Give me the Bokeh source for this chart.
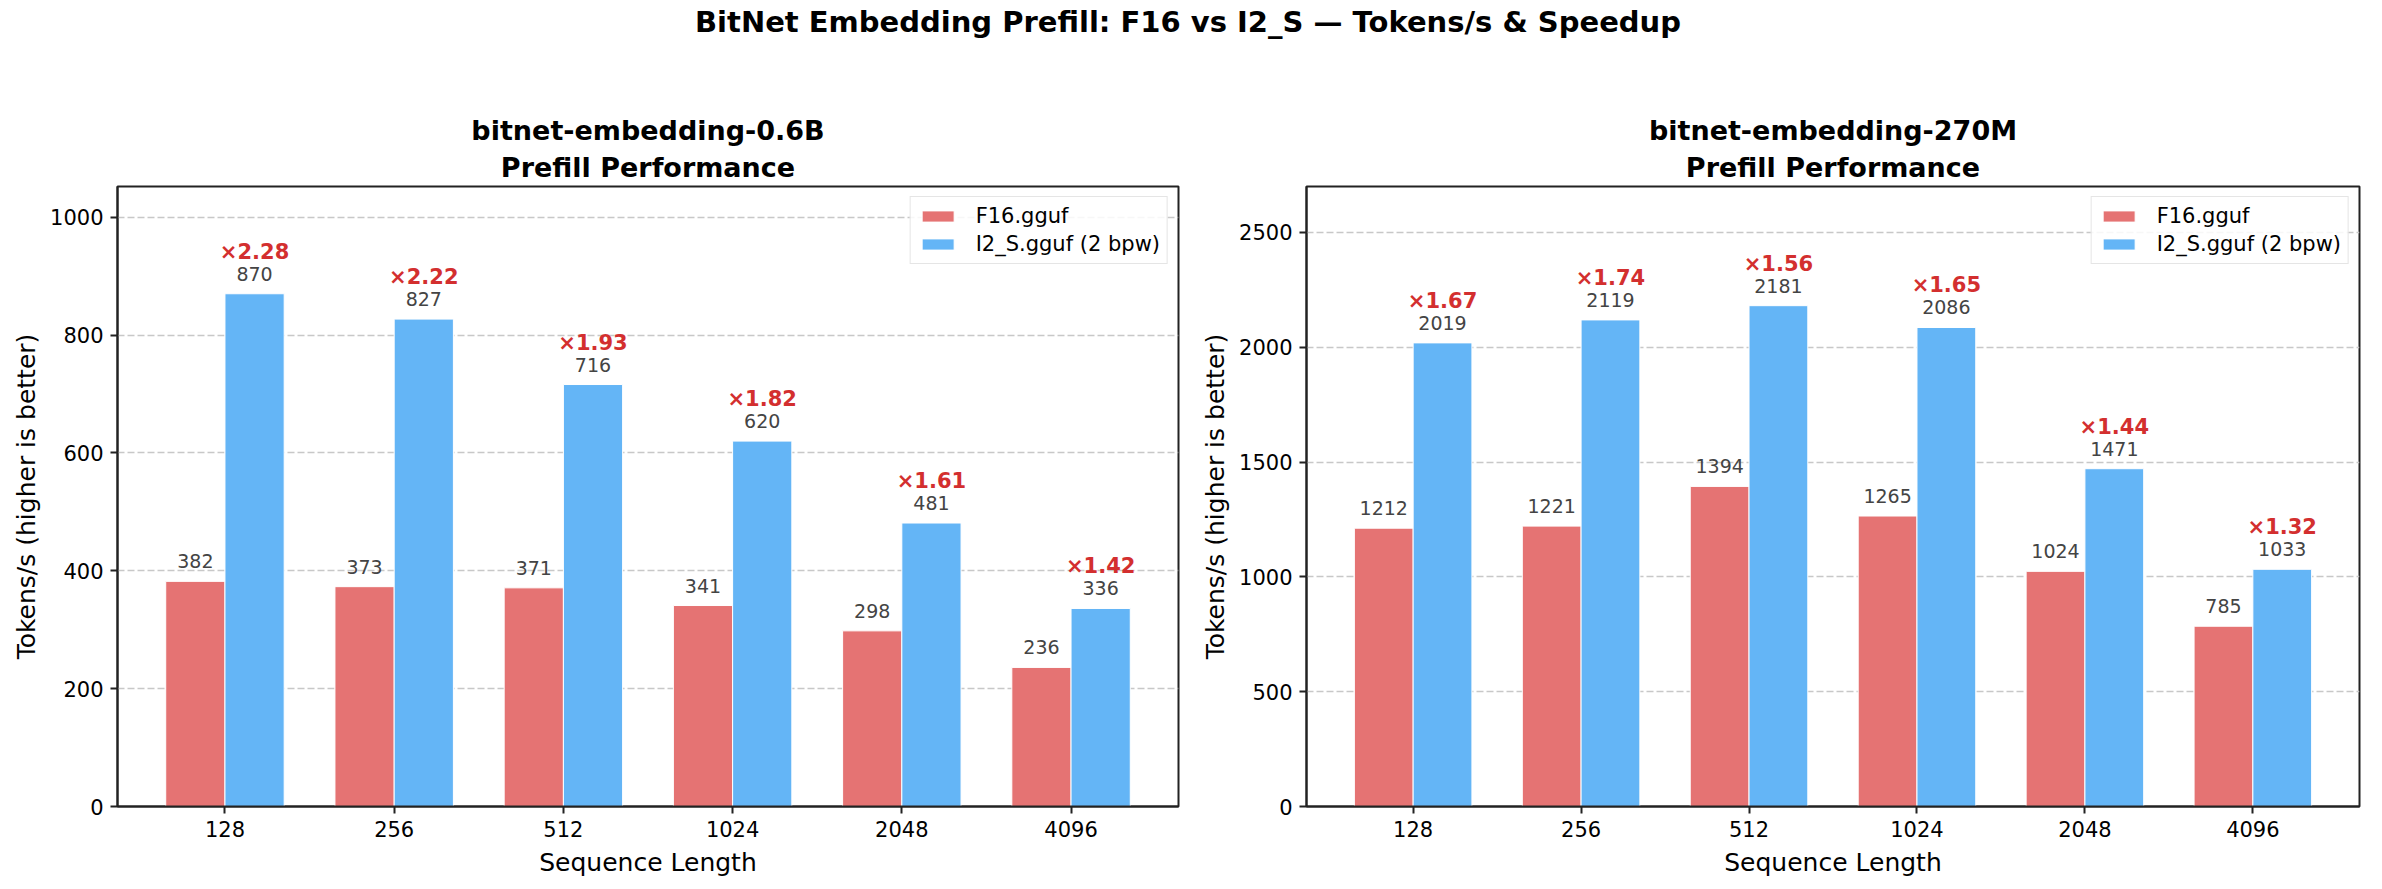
from bokeh.plotting import figure
from bokeh.models import Range1d, FixedTicker, ColumnDataSource, Div, Legend, LegendItem, Title
from bokeh.layouts import column, row
from bokeh.transform import dodge
from bokeh.core.properties import value
from bokeh.embed import file_html
from bokeh.resources import INLINE

# ---------------- data ----------------
seq_labels = ["128", "256", "512", "1024", "2048", "4096"]

f16_06b = [382, 373, 371, 341, 298, 236]
i2s_06b = [870, 827, 716, 620, 481, 336]
speed_06b = [2.28, 2.22, 1.93, 1.82, 1.61, 1.42]

f16_270m = [1212, 1221, 1394, 1265, 1024, 785]
i2s_270m = [2019, 2119, 2181, 2086, 1471, 1033]
speed_270m = [1.67, 1.74, 1.56, 1.65, 1.44, 1.32]

series_names = ["F16.gguf", "I2_S.gguf (2 bpw)"]
suptitle = "BitNet Embedding Prefill: F16 vs I2_S \u2014 Tokens/s & Speedup"
model_names = ["bitnet-embedding-0.6B", "bitnet-embedding-270M"]
subtitle = "Prefill Performance"
y_ticks_06b = [0, 200, 400, 600, 800, 1000]
y_ticks_270m = [0, 500, 1000, 1500, 2000, 2500]

# ---------------- style ----------------
FONT = "DejaVu Sans"
RED = "#E57373"
BLUE = "#64B5F6"
SPEED = "#D32F2F"
LBL = "#444444"
BW = 0.35


def make_panel(model, f16, i2s, speed, yend, yticks, width, left, right):
    src = ColumnDataSource(dict(
        x=list(range(len(seq_labels))),
        f16=f16, i2s=i2s,
        f16_txt=[str(v) for v in f16],
        i2s_txt=[str(v) for v in i2s],
        sp_txt=["\u00d7%.2f" % s for s in speed],
    ))
    p = figure(width=width, height=812, output_backend="svg", toolbar_location=None,
               x_range=Range1d(-0.635, 5.635), y_range=Range1d(0, yend),
               min_border_left=left, min_border_right=right,
               min_border_top=116, min_border_bottom=76)
    for txt, so in ((subtitle, 8), (model, 0)):
        t = Title(text=txt, align="center", text_font=FONT, text_font_size="27px",
                  text_font_style="bold", text_color="black", standoff=so)
        p.add_layout(t, "above")

    p.outline_line_color = "#222222"
    p.outline_line_width = 2
    p.outline_line_alpha = 1
    p.background_fill_color = "white"
    p.border_fill_color = "white"

    r1 = p.vbar(x=dodge("x", -BW / 2), top="f16", width=BW, source=src,
                fill_color=RED, line_color="white", line_width=1)
    r2 = p.vbar(x=dodge("x", BW / 2), top="i2s", width=BW, source=src,
                fill_color=BLUE, line_color="white", line_width=1)

    p.text(x=dodge("x", -BW / 2), y="f16", text="f16_txt", source=src,
           text_font=value(FONT), text_font_size="19px", text_color=LBL,
           text_align="center", text_baseline="alphabetic", y_offset=-20)
    p.text(x=dodge("x", BW / 2), y="i2s", text="i2s_txt", source=src,
           text_font=value(FONT), text_font_size="19px", text_color=LBL,
           text_align="center", text_baseline="alphabetic", y_offset=-20)
    p.text(x=dodge("x", BW / 2), y="i2s", text="sp_txt", source=src,
           text_font=value(FONT), text_font_size="21px", text_font_style="bold",
           text_color=SPEED, text_align="center", text_baseline="alphabetic", y_offset=-42)

    # axes
    p.xaxis.ticker = FixedTicker(ticks=list(range(len(seq_labels))))
    p.xaxis.major_label_overrides = {i: s for i, s in enumerate(seq_labels)}
    p.yaxis.ticker = FixedTicker(ticks=yticks)
    p.xaxis.axis_label = "Sequence Length"
    p.yaxis.axis_label = "Tokens/s (higher is better)"
    for ax in (p.xaxis, p.yaxis):
        ax.axis_label_text_font = FONT
        ax.axis_label_text_font_size = "25px"
        ax.axis_label_text_font_style = "normal"
        ax.axis_label_text_color = "black"
        ax.major_label_text_font = FONT
        ax.major_label_text_font_size = "21px"
        ax.major_label_text_color = "black"
        ax.axis_line_color = "#222222"
        ax.axis_line_width = 2
        ax.major_tick_line_color = "#222222"
        ax.major_tick_line_width = 2
        ax.major_tick_out = 7
        ax.major_tick_in = 0
        ax.minor_tick_line_color = None
        ax.major_label_standoff = 7
        ax.axis_label_standoff = 8
    p.yaxis.axis_label_standoff = 6

    p.xgrid.grid_line_color = None
    p.ygrid.grid_line_color = "#c8c8c8"
    p.ygrid.grid_line_width = 1.5
    p.ygrid.grid_line_dash = "7 3"

    legend = Legend(items=[LegendItem(label=series_names[0], renderers=[r1]),
                           LegendItem(label=series_names[1], renderers=[r2])],
                    location="top_right")
    legend.label_text_font = FONT
    legend.label_text_font_size = "21px"
    legend.label_text_color = "black"
    legend.glyph_width = 40
    legend.glyph_height = 14
    legend.label_standoff = 18
    legend.padding = 7
    legend.spacing = 4
    legend.margin = 10
    legend.border_line_color = "#cccccc"
    legend.border_line_width = 1.5
    legend.background_fill_alpha = 0.85
    p.add_layout(legend)
    return p


p1 = make_panel(model_names[0], f16_06b, i2s_06b, speed_06b, 1052, y_ticks_06b, 1182, 117, 4)
p2 = make_panel(model_names[1], f16_270m, i2s_270m, speed_270m, 2700, y_ticks_270m, 1184, 124, 7)

head = Div(text='<div style="width:2366px; text-align:center; font-family:\'DejaVu Sans\'; '
                'font-weight:bold; font-size:29px; line-height:34px; color:black;">%s</div>' % suptitle,
           width=2366, height=60)

layout = column(head, row(p1, p2))
open("out.html", "w").write(file_html(layout, INLINE))
